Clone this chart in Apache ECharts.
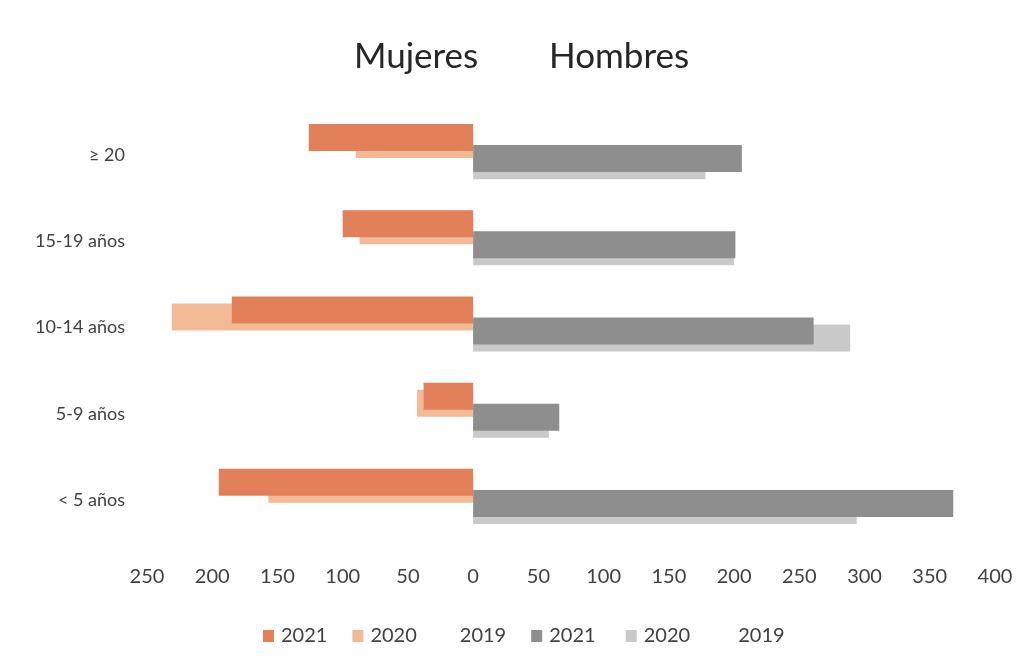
<!DOCTYPE html>
<html>
<head>
<meta charset="utf-8">
<style>
  html, body { margin: 0; padding: 0; background: #ffffff; }
  #chart { width: 1029px; height: 663px; }
</style>
<script src="https://cdn.jsdelivr.net/npm/echarts@6/dist/echarts.min.js"></script>
</head>
<body>
<div id="chart"></div>
<script>
// Age groups, top to bottom
const ageGroups = ['≥ 20', '15-19 años', '10-14 años', '5-9 años', '< 5 años'];

// Women (drawn to the left of zero)
const women2021 = [126, 100, 185, 38, 195];
const women2020 = [90, 87, 231, 43, 157];
const women2019 = [null, null, null, null, null];

// Men (drawn to the right of zero)
const men2021 = [206, 201, 261, 66, 368];
const men2020 = [178, 200, 289, 58, 294];
const men2019 = [null, null, null, null, null];

const valueTicks = { min: -250, max: 400, interval: 50 };

const FONT = 'Lato, "Noto Sans", sans-serif';
const colors = {
  w2021: '#E2805A', w2020: '#F3BA98', w2019: '#FFFFFF',
  m2021: '#8E8E8E', m2020: '#C9C9C9', m2019: '#FFFFFF'
};

const toLeft = arr => arr.map(v => (v == null ? null : -v));

function barSeries(name, data, color, z) {
  return {
    name: name,
    type: 'bar',
    data: data,
    barWidth: 27,
    barGap: '-74%',
    z: z,
    itemStyle: { color: color },
    emphasis: { disabled: true }
  };
}

const chart = echarts.init(document.getElementById('chart'), null, { renderer: 'canvas' });

chart.setOption({
  animation: false,
  backgroundColor: '#ffffff',
  textStyle: { fontFamily: FONT },
  title: [
    { text: 'Mujeres', left: 349, top: 34,
      textStyle: { fontFamily: FONT, fontSize: 35, fontWeight: 'normal', color: '#262626' } },
    { text: 'Hombres', left: 544, top: 34,
      textStyle: { fontFamily: FONT, fontSize: 35, fontWeight: 'normal', color: '#262626' } }
  ],
  legend: {
    left: 258,
    top: 621,
    icon: 'rect',
    itemWidth: 11,
    itemHeight: 12,
    itemGap: 25,
    textStyle: { fontFamily: FONT, fontSize: 20, color: '#404040', padding: [0, 0, 0, 2] },
    data: ['2021', '2020', '2019', '2021 ', '2020 ', '2019 ']
  },
  grid: { left: 147, right: 34, top: 112, height: 431, containLabel: false },
  xAxis: {
    type: 'value',
    min: valueTicks.min,
    max: valueTicks.max,
    interval: valueTicks.interval,
    axisLine: { show: false },
    axisTick: { show: false },
    splitLine: { show: false },
    axisLabel: {
      margin: 24,
      fontFamily: FONT,
      fontSize: 20,
      color: '#404040',
      formatter: v => String(Math.abs(v))
    }
  },
  yAxis: {
    type: 'category',
    data: ageGroups,
    inverse: true,
    axisLine: { show: false },
    axisTick: { show: false },
    axisLabel: { margin: 22, fontFamily: FONT, fontSize: 18, color: '#404040' }
  },
  series: [
    barSeries('2021', toLeft(women2021), colors.w2021, 4),
    barSeries('2020', toLeft(women2020), colors.w2020, 3),
    barSeries('2019', toLeft(women2019), colors.w2019, 2),
    barSeries('2021 ', men2021, colors.m2021, 4),
    barSeries('2020 ', men2020, colors.m2020, 3),
    barSeries('2019 ', men2019, colors.m2019, 2)
  ]
});
</script>
</body>
</html>
